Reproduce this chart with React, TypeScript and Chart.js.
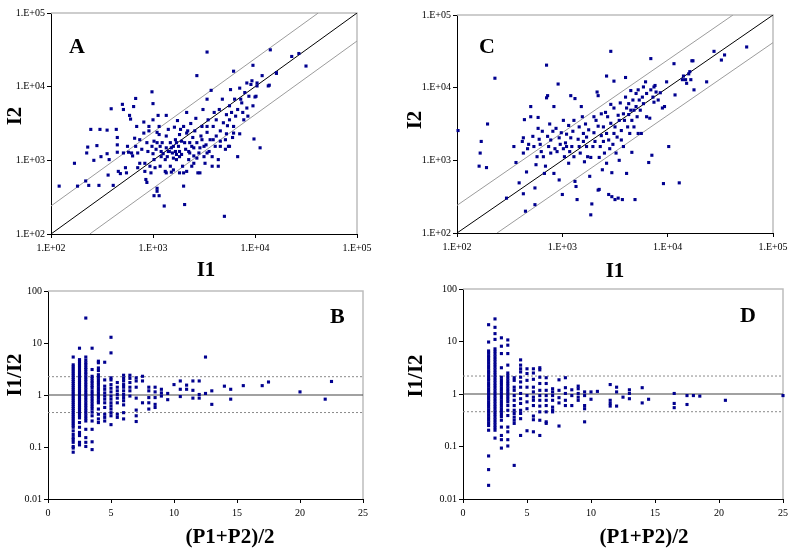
import React, { useEffect, useRef } from 'react';
import { Chart, registerables } from 'chart.js';

Chart.register(...registerables);

// ---------- tick definitions ----------
const INTENSITY_TICKS = [100, 1000, 10000, 100000];
const INTENSITY_TICK_LABELS = ['1.E+02', '1.E+03', '1.E+04', '1.E+05'];
const RATIO_TICKS = [0.01, 0.1, 1, 10, 100];
const RATIO_TICK_LABELS = ['0.01', '0.1', '1', '10', '100'];
const P_TICKS = [0, 5, 10, 15, 20, 25];
const P_TICK_LABELS = ['0', '5', '10', '15', '20', '25'];

// ---------- reference lines ----------
const A_BAND_FACTOR = 2.4;
const C_BAND_FACTOR = 2.4;
const B_REF_LINES = { low: 0.46, mid: 1, high: 2.25 };
const D_REF_LINES = { low: 0.46, mid: 1, high: 2.2 };

// ---------- data (log10 of I1, log10 of I2) ----------
const A_POINTS_LOG: [number, number][] = [
  [2.08,2.65],[2.23,2.96],[2.26,2.65],[2.34,2.72],[2.37,2.66],[2.42,3.00],[2.47,2.66],[2.35,3.10],[2.36,3.18],[2.39,3.42],[2.48,3.42],[2.45,3.20],[2.49,3.05],[2.55,3.41],[2.55,3.09],[2.57,3.01],[2.56,2.80],[2.61,2.66],[2.59,3.70],[2.64,3.42],[2.65,3.31],[2.65,3.21],[2.65,3.11],[2.66,2.85],[2.68,2.82],[2.70,3.76],[2.71,3.69],[2.71,3.10],[2.73,2.90],[2.74,2.83],[2.75,3.19],[2.76,3.11],[2.77,3.61],[2.78,3.56],[2.79,3.10],[2.80,3.06],[2.83,3.84],[2.81,3.73],[2.82,3.30],[2.83,3.19],[2.84,3.46],[2.85,3.10],[2.85,2.90],[2.87,2.96],[2.87,3.28],[2.89,3.15],[2.91,3.52],[2.91,3.37],[2.92,2.96],[2.92,2.85],[2.93,2.74],[2.94,2.70],[2.96,3.40],[2.96,3.46],[2.97,2.92],[2.98,2.83],[2.99,3.93],[3.00,3.77],[3.00,3.55],[3.01,3.26],[3.01,3.01],[3.02,2.90],[3.04,2.62],[3.04,2.58],[3.01,2.52],[3.05,3.61],[3.06,3.46],[3.06,3.35],[3.07,3.19],[3.08,3.05],[3.06,2.52],[3.11,2.38],[3.12,2.85],[3.12,3.01],[3.13,3.17],[3.13,3.33],[3.13,3.61],[3.15,3.42],[3.16,3.12],[3.17,3.24],[3.17,2.92],[3.18,2.84],[3.19,3.10],[3.20,3.19],[3.21,3.45],[3.22,3.28],[3.23,3.08],[3.23,3.01],[3.24,3.54],[3.25,3.19],[3.26,3.05],[3.27,3.42],[3.28,3.26],[3.29,2.92],[3.30,2.83],[3.30,2.65],[3.31,2.40],[3.32,3.15],[3.33,3.65],[3.34,3.40],[3.35,3.01],[3.36,3.24],[3.36,3.10],[3.37,3.50],[3.38,2.92],[3.39,3.31],[3.40,3.17],[3.41,3.40],[3.42,3.57],[3.43,4.15],[3.43,3.03],[3.44,2.83],[3.46,3.17],[3.47,3.33],[3.48,3.46],[3.49,3.69],[3.50,3.05],[3.51,2.96],[3.52,3.21],[3.53,3.38],[3.53,4.47],[3.53,3.83],[3.54,3.55],[3.55,3.12],[3.56,3.28],[3.57,3.95],[3.58,2.92],[3.58,3.05],[3.59,3.46],[3.60,3.65],[3.61,3.19],[3.62,3.33],[3.62,3.55],[3.64,3.01],[3.64,2.92],[3.65,3.69],[3.66,3.40],[3.66,3.26],[3.68,3.83],[3.69,3.51],[3.70,2.24],[3.71,3.15],[3.72,3.62],[3.72,3.36],[3.73,3.47],[3.74,3.19],[3.75,3.74],[3.75,3.55],[3.76,3.96],[3.77,3.65],[3.78,3.31],[3.79,4.21],[3.79,3.46],[3.80,3.83],[3.81,3.60],[3.83,3.05],[3.83,3.69],[3.85,3.98],[3.85,3.36],[3.86,3.83],[3.87,3.78],[3.88,3.65],[3.89,3.55],[3.90,3.92],[3.92,4.05],[3.92,3.71],[3.93,3.60],[3.94,3.87],[3.96,4.03],[3.97,4.08],[3.98,4.29],[3.98,3.74],[3.99,3.29],[4.00,3.86],[4.01,3.87],[4.02,4.01],[4.02,4.05],[4.05,3.17],[4.07,4.15],[4.13,4.01],[4.14,4.02],[4.15,4.50],[4.21,4.18],[4.21,4.19],[4.36,4.41],[4.43,4.45],[4.50,4.28],
  [2.94,3.24],[2.95,3.12],[2.99,3.19],[3.00,3.09],[3.03,3.15],[3.04,3.24],[3.08,3.12],[3.09,3.24],[3.10,3.09],[3.14,3.05],[3.15,3.12],[3.18,3.17],[3.20,3.03],[3.22,3.12],[3.23,3.24],[3.26,3.12],[3.28,3.08],[3.31,3.24],[3.33,3.37],[3.35,3.12],[3.38,3.19],[3.40,3.06],[3.43,3.24],[3.45,3.10],[3.48,3.28],[3.50,3.19],[3.53,3.10],[3.26,3.35],[3.30,3.46],[3.04,3.38],[3.07,2.92],[3.13,2.83],[3.20,2.87],[3.26,2.83],[3.33,2.85],[3.40,2.96],[3.46,2.83],[3.53,3.46],[3.59,3.28],[3.66,3.19],[3.71,3.28],[3.75,3.19],[3.79,3.37],
];

const C_POINTS_LOG: [number, number][] = [
  [2.01,3.41],[2.21,2.92],[2.22,3.10],[2.23,3.26],[2.29,3.50],[2.28,2.90],[2.36,4.13],[2.47,2.48],[2.54,3.19],[2.56,2.97],[2.59,2.69],[2.62,3.26],[2.63,3.10],[2.63,3.31],[2.64,3.56],[2.63,2.54],[2.65,2.30],[2.66,2.84],[2.67,3.16],[2.68,3.22],[2.70,3.74],[2.70,3.60],[2.72,3.33],[2.73,3.19],[2.74,2.62],[2.74,2.39],[2.75,2.94],[2.76,3.05],[2.77,3.44],[2.77,3.59],[2.78,3.29],[2.79,3.22],[2.80,3.12],[2.81,3.40],[2.82,3.05],[2.83,2.82],[2.84,2.92],[2.85,4.31],[2.85,3.86],[2.86,3.89],[2.86,3.33],[2.87,3.19],[2.88,3.50],[2.89,3.28],[2.89,3.10],[2.91,3.40],[2.92,3.74],[2.92,2.82],[2.93,3.16],[2.94,3.44],[2.95,3.12],[2.96,4.05],[2.97,3.31],[2.97,2.73],[2.98,3.22],[2.99,3.38],[3.00,2.53],[3.01,3.16],[3.01,3.55],[3.02,3.05],[3.03,3.24],[3.04,3.36],[3.04,3.19],[3.06,2.96],[3.06,3.48],[3.07,3.12],[3.08,3.89],[3.08,3.31],[3.09,3.19],[3.10,3.40],[3.11,3.55],[3.11,3.05],[3.12,3.85],[3.12,2.71],[3.13,2.64],[3.14,2.46],[3.15,3.29],[3.16,3.46],[3.16,3.19],[3.17,3.10],[3.18,3.74],[3.19,3.60],[3.20,3.37],[3.20,3.26],[3.21,2.98],[3.22,3.50],[3.23,3.19],[3.23,3.32],[3.24,3.05],[3.25,3.42],[3.26,2.78],[3.27,2.25],[3.27,3.04],[3.28,2.40],[3.29,3.19],[3.30,3.38],[3.30,3.60],[3.31,3.26],[3.32,3.55],[3.33,3.94],[3.34,3.89],[3.34,3.47],[3.34,2.59],[3.35,2.60],[3.35,3.04],[3.36,3.19],[3.37,3.34],[3.37,3.64],[3.38,2.87],[3.39,3.26],[3.39,3.46],[3.40,3.10],[3.41,3.66],[3.42,3.37],[3.42,4.16],[3.42,2.96],[3.43,3.60],[3.44,3.28],[3.44,2.53],[3.45,3.16],[3.46,3.51],[3.46,4.50],[3.46,3.77],[3.47,2.83],[3.47,2.50],[3.48,3.22],[3.49,4.09],[3.49,3.37],[3.49,3.72],[3.50,3.46],[3.50,2.46],[3.51,3.10],[3.52,3.32],[3.53,3.62],[3.53,2.48],[3.54,3.00],[3.54,3.55],[3.55,3.79],[3.56,3.41],[3.56,3.28],[3.57,2.46],[3.58,3.64],[3.58,3.19],[3.59,3.55],[3.60,4.14],[3.60,3.87],[3.61,2.82],[3.61,3.72],[3.62,3.46],[3.63,3.63],[3.63,3.78],[3.64,3.37],[3.65,3.96],[3.65,3.69],[3.66,3.55],[3.66,3.11],[3.67,3.83],[3.68,3.69],[3.68,3.46],[3.69,2.46],[3.70,3.92],[3.70,3.74],[3.71,3.60],[3.72,3.37],[3.72,3.97],[3.73,3.83],[3.74,3.69],[3.75,3.37],[3.76,3.87],[3.77,4.01],[3.77,3.78],[3.79,4.08],[3.80,3.92],[3.80,3.60],[3.82,2.97],[3.83,3.58],[3.84,4.40],[3.84,3.97],[3.85,3.07],[3.86,3.87],[3.87,4.01],[3.87,3.80],[3.88,4.03],[3.89,3.94],[3.91,3.83],[3.93,3.93],[3.95,3.72],[3.96,2.68],[3.97,3.74],[3.99,4.08],[4.01,3.19],[4.06,4.33],[4.07,3.90],[4.11,2.69],[4.14,4.11],[4.15,4.16],[4.17,4.11],[4.18,4.06],[4.20,4.19],[4.21,4.22],[4.22,4.11],[4.23,4.37],[4.24,4.37],[4.25,3.97],[4.37,4.08],[4.44,4.50],[4.51,4.38],[4.54,4.45],[4.75,4.56],
];

// ---------- data: (P1+P2)/2 and log10(I1/I2) values in each column ----------
const B_COLUMNS: [number, number[]][] = [
  [2, [0.73,0.58,0.54,0.50,0.46,0.42,0.38,0.34,0.30,0.26,0.22,0.18,0.14,0.10,0.06,0.02,-0.02,-0.06,-0.10,-0.14,-0.18,-0.22,-0.26,-0.30,-0.34,-0.38,-0.42,-0.46,-0.50,-0.54,-0.58,-0.62,-0.69,-0.76,-0.82,-0.86,-0.91,-0.99,-1.02,-1.10]],
  [2.5, [0.90,0.68,0.64,0.60,0.56,0.52,0.48,0.44,0.40,0.36,0.32,0.28,0.24,0.20,0.16,0.12,0.08,0.04,0.00,-0.04,-0.08,-0.12,-0.16,-0.20,-0.24,-0.28,-0.32,-0.36,-0.40,-0.44,-0.53,-0.62,-0.72,-0.78,-0.91,-0.96]],
  [3, [1.48,0.73,0.67,0.62,0.58,0.53,0.49,0.44,0.40,0.35,0.30,0.25,0.20,0.15,0.10,0.05,0.00,-0.05,-0.10,-0.15,-0.20,-0.25,-0.30,-0.35,-0.40,-0.45,-0.50,-0.66,-0.82,-0.91,-0.99]],
  [3.5, [0.90,0.49,0.36,0.32,0.27,0.23,0.18,0.14,0.08,0.03,-0.02,-0.07,-0.12,-0.17,-0.22,-0.27,-0.33,-0.40,-0.50,-0.66,-0.90,-1.05]],
  [4, [0.65,0.62,0.52,0.47,0.39,0.34,0.29,0.24,0.19,0.14,0.09,0.04,-0.01,-0.06,-0.11,-0.15,-0.27,-0.37,-0.46,-0.53]],
  [4.5, [0.63,0.29,0.17,0.11,0.04,-0.02,-0.08,-0.15,-0.24,-0.37,-0.43,-0.50]],
  [5, [1.11,0.81,0.33,0.29,0.20,0.13,0.06,-0.02,-0.08,-0.15,-0.21,-0.27,-0.34,-0.40,-0.57]],
  [5.5, [0.24,0.15,0.08,0.01,-0.06,-0.15,-0.37,-0.43]],
  [6, [0.38,0.32,0.27,0.20,0.15,0.08,0.01,-0.05,-0.11,-0.19,-0.34,-0.46]],
  [6.5, [0.38,0.32,0.24,0.15,0.08,-0.02]],
  [7, [0.33,0.27,0.15,-0.06,-0.29,-0.40,-0.51]],
  [7.5, [0.36,0.27,-0.15]],
  [8, [0.15,0.08,-0.05,-0.15,-0.27]],
  [8.5, [0.15,0.06,-0.05,-0.18,-0.24]],
  [9, [0.11,0.04,-0.02]],
  [9.5, [0.03,-0.09]],
  [10, [0.20]],
  [10.5, [0.27,0.11,-0.03]],
  [11, [0.19,0.11]],
  [11.5, [0.27,0.09,-0.06]],
  [12, [0.27,0.01,-0.06]],
  [12.5, [0.73,0.03]],
  [13, [0.08,-0.18]],
  [14, [0.17]],
  [14.5, [0.11,-0.08]],
  [15.5, [0.18]],
  [17, [0.18]],
  [17.5, [0.25]],
  [20, [0.06]],
  [22, [-0.08]],
  [22.5, [0.26]],
];

const D_COLUMNS: [number, number[]][] = [
  [2, [1.32,0.99,0.82,0.78,0.73,0.69,0.64,0.59,0.54,0.49,0.44,0.40,0.35,0.30,0.26,0.20,0.15,0.10,0.05,0.00,-0.05,-0.10,-0.15,-0.20,-0.25,-0.30,-0.35,-0.40,-0.45,-0.50,-0.55,-0.60,-0.69,-1.18,-1.44,-1.74]],
  [2.5, [1.43,1.27,1.15,1.04,0.86,0.81,0.76,0.71,0.66,0.61,0.56,0.51,0.46,0.41,0.36,0.31,0.26,0.21,0.16,0.11,0.06,0.01,-0.04,-0.09,-0.14,-0.19,-0.24,-0.29,-0.34,-0.39,-0.44,-0.49,-0.54,-0.59,-0.64,-0.69,-0.84]],
  [3, [1.07,0.91,0.77,0.50,0.32,0.27,0.22,0.17,0.12,0.07,0.02,-0.03,-0.08,-0.13,-0.18,-0.23,-0.28,-0.33,-0.38,-0.43,-0.50,-0.63,-0.79,-0.87,-1.03]],
  [3.5, [1.03,0.93,0.77,0.55,0.40,0.35,0.30,0.25,0.20,0.15,0.10,0.05,0.00,-0.05,-0.10,-0.15,-0.22,-0.31,-0.41,-0.63,-0.72,-0.87,-0.99]],
  [4, [0.31,0.26,0.13,0.07,-0.03,-0.12,-0.22,-0.31,-0.37,-0.44,-0.50,-0.56,-1.36]],
  [4.5, [0.65,0.55,0.48,0.42,0.32,0.23,0.13,0.01,-0.09,-0.18,-0.31,-0.37,-0.47,-0.79]],
  [5, [0.48,0.39,0.26,0.13,-0.03,-0.15,-0.28,-0.70]],
  [5.5, [0.48,0.40,0.28,0.13,0.04,-0.06,-0.12,-0.22,-0.42,-0.49,-0.72]],
  [6, [0.50,0.46,0.32,0.20,0.07,-0.03,-0.12,-0.23,-0.34,-0.50,-0.79]],
  [6.5, [0.31,0.20,0.07,-0.03,-0.12,-0.22,-0.34,-0.53,-0.56]],
  [7, [0.10,0.04,-0.03,-0.12,-0.25,-0.31,-0.34]],
  [7.5, [0.27,0.07,-0.07,-0.17,-0.61]],
  [8, [0.31,0.12,0.01,-0.12,-0.22]],
  [8.5, [0.08,-0.03,-0.22]],
  [9, [0.15,0.10,0.01,-0.06,-0.12]],
  [9.5, [0.04,-0.03,-0.22,-0.28,-0.53]],
  [10, [0.04,-0.10]],
  [10.5, [0.05]],
  [11.5, [0.18,-0.12,-0.18,-0.23]],
  [12, [0.13,0.04,-0.23]],
  [12.5, [-0.06]],
  [13, [0.08,0.01,-0.09]],
  [14, [0.12,-0.17]],
  [14.5, [-0.10]],
  [16.5, [0.01,-0.18,-0.26]],
  [17.5, [-0.03,-0.20]],
  [18, [-0.03]],
  [18.5, [-0.04]],
  [20.5, [-0.12]],
  [25, [-0.03]],
];

// ---------- styling ----------
const FONT = '"Liberation Serif", "Times New Roman", Times, serif';
const POINT_COLOR = '#00008f';
const Y_AXIS_W = 40;
const X_AXIS_H = 20;

type Box = { x: number; y: number; w: number; h: number };
type Area = { l: number; t: number; r: number; b: number };
type Decor = {
  xTitle: string; xTitlePos: [number, number];
  yTitle: string; yTitlePos: [number, number];
  letter: string; letterPos: [number, number];
};

const fromLogPairs = (pairs: [number, number][]) =>
  pairs.map(([lx, ly]) => ({ x: Math.pow(10, lx), y: Math.pow(10, ly) }));

const fromColumns = (cols: [number, number[]][]) => {
  const out: { x: number; y: number }[] = [];
  cols.forEach(([x, logs]) => logs.forEach((l) => out.push({ x, y: Math.pow(10, l) })));
  return out;
};

const axis = (type: string, min: number, max: number, ticks: number[], labels: string[], isY: boolean) => ({
  type,
  min,
  max,
  afterBuildTicks: (s: any) => {
    s.ticks = ticks.map((v) => ({ value: v }));
  },
  ticks: {
    autoSkip: false,
    maxRotation: 0,
    color: '#000',
    font: { family: FONT, size: 10 },
    padding: isY ? 2 : 4,
    callback: (_v: any, i: number) => labels[i],
  },
  grid: { display: true, drawOnChartArea: false, drawTicks: true, tickLength: 4, color: '#000', lineWidth: 1 },
  border: { display: true, color: '#000', width: 1 },
  afterFit: (s: any) => {
    if (isY) s.width = Y_AXIS_W;
    else s.height = X_AXIS_H;
  },
});

const decorPlugin = (d: Decor) => ({
  id: 'decor',
  beforeDatasetsDraw(chart: any) {
    const { ctx, chartArea: a } = chart;
    ctx.save();
    ctx.strokeStyle = '#bdbdbd';
    ctx.lineWidth = 1.5;
    ctx.beginPath();
    ctx.moveTo(a.left, a.top);
    ctx.lineTo(a.right, a.top);
    ctx.lineTo(a.right, a.bottom);
    ctx.stroke();
    ctx.restore();
  },
  afterDraw(chart: any) {
    const { ctx } = chart;
    ctx.save();
    ctx.fillStyle = '#000';
    ctx.font = `bold 21px ${FONT}`;
    ctx.textAlign = 'center';
    ctx.textBaseline = 'alphabetic';
    ctx.fillText(d.xTitle, d.xTitlePos[0], d.xTitlePos[1]);

    ctx.save();
    ctx.translate(d.yTitlePos[0], d.yTitlePos[1]);
    ctx.rotate(-Math.PI / 2);
    ctx.textBaseline = 'middle';
    ctx.fillText(d.yTitle, 0, 0);
    ctx.restore();

    ctx.font = `bold 22px ${FONT}`;
    ctx.textAlign = 'left';
    ctx.textBaseline = 'alphabetic';
    ctx.fillText(d.letter, d.letterPos[0], d.letterPos[1]);
    ctx.restore();
  },
});

const pointsDataset = (data: { x: number; y: number }[]) => ({
  data,
  showLine: false,
  pointStyle: 'rect',
  pointRadius: 2.2,
  pointHoverRadius: 2.2,
  pointBackgroundColor: POINT_COLOR,
  pointBorderWidth: 0,
  clip: false,
  order: 0,
});

const lineDataset = (data: { x: number; y: number }[], color: string, width: number, dash: number[] = []) => ({
  data,
  showLine: true,
  borderColor: color,
  borderWidth: width,
  borderDash: dash,
  pointRadius: 0,
  pointHoverRadius: 0,
  fill: false,
  order: 1,
});

const intensityDatasets = (pairs: [number, number][], factor: number) => {
  const lo = INTENSITY_TICKS[0];
  const hi = INTENSITY_TICKS[INTENSITY_TICKS.length - 1];
  return [
    pointsDataset(fromLogPairs(pairs)),
    lineDataset([{ x: lo, y: lo }, { x: hi, y: hi }], '#000', 1),
    lineDataset([{ x: lo, y: lo * factor }, { x: hi / factor, y: hi }], '#9c9c9c', 1),
    lineDataset([{ x: lo * factor, y: lo }, { x: hi, y: hi / factor }], '#9c9c9c', 1),
  ];
};

const ratioDatasets = (cols: [number, number[]][], ref: { low: number; mid: number; high: number }) => {
  const lo = P_TICKS[0];
  const hi = P_TICKS[P_TICKS.length - 1];
  return [
    pointsDataset(fromColumns(cols)),
    lineDataset([{ x: lo, y: ref.mid }, { x: hi, y: ref.mid }], '#444', 1.2),
    lineDataset([{ x: lo, y: ref.high }, { x: hi, y: ref.high }], '#8a8a8a', 1, [2, 2]),
    lineDataset([{ x: lo, y: ref.low }, { x: hi, y: ref.low }], '#8a8a8a', 1, [2, 2]),
  ];
};

type PanelProps = { box: Box; area: Area; decor: Decor; kind: 'intensity' | 'ratio'; datasets: any[] };

function Panel({ box, area, decor, kind, datasets }: PanelProps) {
  const ref = useRef<HTMLCanvasElement | null>(null);
  useEffect(() => {
    if (!ref.current) return;
    const padding = {
      left: area.l - box.x - Y_AXIS_W,
      top: area.t - box.y,
      right: box.x + box.w - area.r,
      bottom: box.y + box.h - area.b - X_AXIS_H,
    };
    const scales =
      kind === 'intensity'
        ? {
            x: axis('logarithmic', 100, 100000, INTENSITY_TICKS, INTENSITY_TICK_LABELS, false),
            y: axis('logarithmic', 100, 100000, INTENSITY_TICKS, INTENSITY_TICK_LABELS, true),
          }
        : {
            x: axis('linear', 0, 25, P_TICKS, P_TICK_LABELS, false),
            y: axis('logarithmic', 0.01, 100, RATIO_TICKS, RATIO_TICK_LABELS, true),
          };
    const chart = new Chart(ref.current, {
      type: 'scatter',
      data: { datasets },
      options: {
        responsive: false,
        animation: false,
        devicePixelRatio: 1,
        layout: { padding },
        plugins: { legend: { display: false }, tooltip: { enabled: false } },
        scales: scales as any,
      },
      plugins: [decorPlugin(decor)],
    } as any);
    return () => chart.destroy();
  }, []);
  return (
    <canvas
      ref={ref}
      width={box.w}
      height={box.h}
      style={{ position: 'absolute', left: box.x, top: box.y, width: box.w, height: box.h }}
    />
  );
}

export default function App() {
  return (
    <div style={{ position: 'absolute', left: 0, top: 0, width: 800, height: 553, background: '#fff' }}>
      <Panel
        box={{ x: 0, y: 0, w: 400, h: 280 }}
        area={{ l: 51, t: 13, r: 357, b: 234 }}
        kind="intensity"
        datasets={intensityDatasets(A_POINTS_LOG, A_BAND_FACTOR)}
        decor={{ xTitle: 'I1', xTitlePos: [206, 276], yTitle: 'I2', yTitlePos: [16, 116], letter: 'A', letterPos: [69, 53] }}
      />
      <Panel
        box={{ x: 400, y: 0, w: 400, h: 280 }}
        area={{ l: 457, t: 15, r: 773, b: 233 }}
        kind="intensity"
        datasets={intensityDatasets(C_POINTS_LOG, C_BAND_FACTOR)}
        decor={{ xTitle: 'I1', xTitlePos: [215, 277], yTitle: 'I2', yTitlePos: [16, 120], letter: 'C', letterPos: [79, 53] }}
      />
      <Panel
        box={{ x: 0, y: 280, w: 400, h: 273 }}
        area={{ l: 48, t: 291, r: 363, b: 499 }}
        kind="ratio"
        datasets={ratioDatasets(B_COLUMNS, B_REF_LINES)}
        decor={{ xTitle: '(P1+P2)/2', xTitlePos: [230, 263], yTitle: 'I1/I2', yTitlePos: [16, 95], letter: 'B', letterPos: [330, 43] }}
      />
      <Panel
        box={{ x: 400, y: 280, w: 400, h: 273 }}
        area={{ l: 463, t: 289, r: 783, b: 499 }}
        kind="ratio"
        datasets={ratioDatasets(D_COLUMNS, D_REF_LINES)}
        decor={{ xTitle: '(P1+P2)/2', xTitlePos: [244, 263], yTitle: 'I1/I2', yTitlePos: [17, 96], letter: 'D', letterPos: [340, 42] }}
      />
    </div>
  );
}
